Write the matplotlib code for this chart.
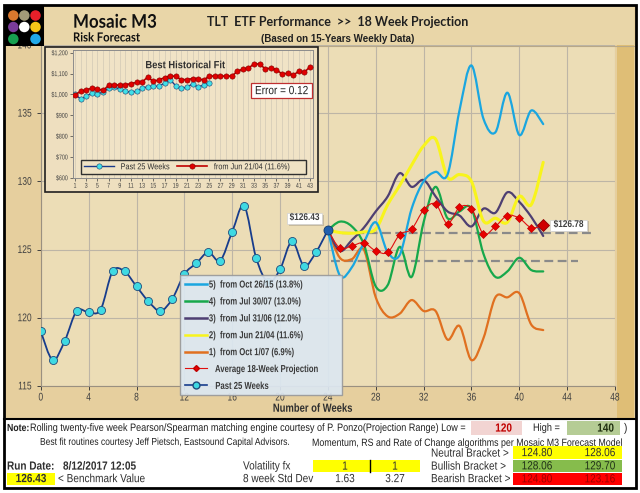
import numpy as np
import matplotlib
matplotlib.use('Agg')
import matplotlib.pyplot as plt
from matplotlib.patches import Rectangle, Ellipse, PathPatch
from matplotlib.path import Path
from matplotlib.lines import Line2D
from matplotlib.transforms import Affine2D
from matplotlib.patheffects import AbstractPathEffect

# ---- data ----
past_weeks = list(range(0, 25))
past_25 = [119.0, 116.9, 118.3, 120.5, 120.4, 120.6, 123.4, 123.4, 122.3, 121.2,
           120.5, 121.4, 123.2, 124.0, 124.8, 124.2, 126.3, 128.2, 124.4, 122.6,
           123.55, 125.6, 123.8, 124.8, 126.43]

proj_weeks = list(range(24, 43))
proj_5 = [126.43, 123.1, 123.7, 125.5, 127.0, 124.8, 124.6, 128.0, 130.0, 130.7,
          130.5, 135.2, 138.5, 134.6, 133.6, 136.5, 133.4, 135.2, 134.2]
proj_4 = [126.43, 127.05, 126.7, 125.4, 122.3, 122.4, 125.2, 123.0, 127.0, 129.6,
          127.3, 127.8, 128.0, 124.7, 123.0, 123.4, 124.4, 123.5, 123.4]
proj_3 = [126.43, 124.9, 125.7, 126.6, 127.8, 128.9, 130.6, 129.6, 130.1, 128.9,
          127.8, 127.5, 126.7, 128.0, 127.7, 129.2, 128.5, 127.4, 126.0]
proj_2 = [126.43, 126.25, 126.2, 126.3, 126.5, 128.3, 129.7, 131.2, 132.6, 133.1,
          130.3, 130.5, 130.0, 127.1, 127.3, 127.0, 128.9, 128.3, 131.4]
proj_1 = [126.43, 124.4, 124.3, 125.0, 121.5, 120.1, 120.3, 121.3, 120.5, 120.5,
          118.4, 119.4, 116.9, 118.5, 121.5, 121.5, 121.8, 119.5, 119.1]
proj_avg = [126.43, 125.1, 125.27, 125.5, 124.9, 124.8, 126.1, 126.5, 127.9, 128.35,
            126.9, 128.1, 128.0, 126.15, 126.7, 127.5, 127.3, 126.6, 126.78]

proj_labels = ['5)  from Oct 26/15 (13.8%)', '4)  from Jul 30/07 (13.0%)',
               '3)  from Jul 31/06 (12.0%)', '2)  from Jun 21/04 (11.6%)',
               '1)  from Oct 1/07 (6.9%)']
proj_colors = ['#1AA6E0', '#17A84B', '#4E3F72', '#F8F41C', '#E07020']

band_levels = [126.24, 124.14]
band_start = [25.2, 24.3]
band_end = [46.0, 44.9]

fit_weeks = list(range(1, 44))
fit_match = [998.6, 1014, 1021, 1030, 1026, 1019, 1043, 1045, 1045, 1046, 1052, 1057,
             1060, 1083, 1062, 1070, 1080, 1090, 1086, 1071, 1071, 1076, 1075, 1069,
             1088, 1088, 1088, 1088, 1088, 1110, 1122, 1126, 1146, 1146, 1122, 1126,
             1119, 1097, 1102, 1092, 1111, 1107, 1132]
fit_past = [1000, 978, 990, 1007, 1003, 1010, 1030, 1033, 1026, 1014, 1011, 1014,
            1030, 1037, 1038, 1040, 1054, 1071, 1041, 1029, 1035, 1050, 1035, 1045, 1056]

W, H = 640, 493
def fx(px): return px / W
def fy(py): return 1 - py / H

plt.rcParams['font.family'] = ['Liberation Sans', 'DejaVu Sans']
HEAD = ['Lato', 'DejaVu Sans']


class Squeeze(AbstractPathEffect):
    # rescale glyphs about the text anchor: the source chart was squashed sideways
    def __init__(self, sx, sy, ha='left', va='center'):
        super().__init__()
        self.sx, self.sy, self.ha, self.va = sx, sy, ha, va

    def draw_path(self, renderer, gc, tpath, affine, rgbFace=None):
        e = tpath.get_extents()
        px = {'center': (e.x0 + e.x1) / 2, 'right': e.x1}.get(self.ha, 0.0)
        py = {'top': e.y1, 'bottom': e.y0, 'baseline': 0.0}.get(self.va, (e.y0 + e.y1) / 2)
        t = Affine2D().translate(-px, -py).scale(self.sx, self.sy).translate(px, py) + affine
        renderer.draw_path(gc, tpath, t, rgbFace)


def narrow(t, sx):
    # smaller font, stretched back up: same look as a squeezed font, true width
    t.set_fontsize(t.get_fontsize() * sx)
    t.set_path_effects([Squeeze(1, 1 / sx, t.get_ha(), t.get_va())])


def smooth(x, y):
    # excel style smoothed line: bezier through every point
    p = np.column_stack([x, y]).astype(float)
    e = np.vstack([p[0], p, p[-1]])
    verts, codes = [p[0]], [Path.MOVETO]
    for i in range(len(p) - 1):
        c1 = e[i + 1] + (e[i + 2] - e[i]) / 6
        c2 = e[i + 2] - (e[i + 3] - e[i + 1]) / 6
        verts += [c1, c2, e[i + 2]]
        codes += [Path.CURVE4] * 3
    return Path(verts, codes)


fig = plt.figure(figsize=(W / 100, H / 100), dpi=100)
fig.patch.set_facecolor('white')

def box(px0, py0, px1, py1, **kw):
    r = Rectangle((fx(px0), fy(py1)), (px1 - px0) / W, (py1 - py0) / H,
                  transform=fig.transFigure, **kw)
    fig.add_artist(r)
    return r

def ftxt(px, py, s, sx=0.85, **kw):
    kw.setdefault('va', 'center')
    t = fig.text(fx(px), fy(py), s, **kw)
    if sx < 1:
        narrow(t, sx)
    return t

# backgrounds
box(4, 5, 636, 419, fc='#E6CF9E', ec='none', zorder=-10)
box(617, 45, 634, 419, fc='#DFBE76', ec='none', zorder=-9)
box(45, 5, 634, 45, fc='#E9D6A8', ec='none', zorder=1)
fig.add_artist(Line2D([fx(45), fx(634)], [fy(45.5)] * 2, transform=fig.transFigure,
                      color='#B8A888', lw=0.8, zorder=1))

# ---- main chart ----
TSX = 0.76
ax = fig.add_axes([fx(40.8), fy(386), (615 - 40.8) / W, (386 - 45) / H])
ax.set_facecolor('#ECDDB6')
ax.set_xlim(0, 48)
ax.set_ylim(115, 140)
ax.set_xticks(range(0, 49, 4))
ax.set_yticks(range(115, 141, 5))
ax.grid(True, color='#BDB5A6', lw=0.8)
ax.set_axisbelow(True)
for s in ['top', 'right']:
    ax.spines[s].set_visible(False)
for s in ['left', 'bottom']:
    ax.spines[s].set_color('#9A9080')
    ax.spines[s].set_linewidth(0.8)
ax.tick_params(labelsize=8 * TSX, colors='#404040', length=3, width=0.7)
ax.tick_params(axis='x', pad=2.5)
xl = ax.set_xlabel('Number of Weeks', fontsize=8.5, fontweight='bold', color='#303030')
ax.xaxis.set_label_coords(0.474, -0.05)
narrow(xl, 0.8)

for lv, x0, x1 in zip(band_levels, band_start, band_end):
    ax.plot([x0, x1], [lv, lv], ls=(0, (4, 2)), color='#8A8A8A', lw=1.6, zorder=3)

series = [proj_1, proj_4, proj_3, proj_2, proj_5]
cols = [proj_colors[4], proj_colors[1], proj_colors[2], proj_colors[3], proj_colors[0]]
for vals, c in zip(series, cols):
    lw = 2.2 if c == proj_colors[3] else 1.6
    ax.add_patch(PathPatch(smooth(proj_weeks, vals), fill=False, ec=c, lw=lw, zorder=4,
                           capstyle='round'))

ax.add_patch(PathPatch(smooth(proj_weeks, proj_avg), fill=False, ec='#E01010', lw=0.8, zorder=5))
ax.plot(proj_weeks[1:-1], proj_avg[1:-1], ls='none', marker='D', ms=4.2, mfc='#E80000',
        mec='#C00000', mew=0.5, zorder=6)
ax.plot(proj_weeks[-1:], proj_avg[-1:], ls='none', marker='D', ms=6.5, mfc='#D00000',
        mec='#900000', mew=0.6, zorder=6)

ax.add_patch(PathPatch(smooth(past_weeks, past_25), fill=False, ec='#173C8C', lw=1.3, zorder=7))
ax.plot(past_weeks[:-1], past_25[:-1], ls='none', marker='o', ms=5.8, mfc='#3FD9E2',
        mec='#1F4C7C', mew=0.6, zorder=8)
ax.plot(past_weeks[-1:], past_25[-1:], ls='none', marker='o', ms=6.5, mfc='#1F5FAF',
        mec='#123A6A', mew=0.6, zorder=8)

handles = [Line2D([], [], color=c, lw=1.8) for c in proj_colors]
handles += [Line2D([], [], color='#E01010', lw=0.8, marker='D', ms=3, mfc='#E80000', mec='#C00000'),
            Line2D([], [], color='#173C8C', lw=1.2, marker='o', ms=5, mfc='#3FD9E2', mec='#1F4C7C')]
labels = proj_labels + ['   Average 18-Week Projection', '   Past 25 Weeks']
leg = ax.legend(handles, labels, loc='upper left', bbox_to_anchor=(0.2424, 0.2255, 0.2817, 0.1),
                mode='expand', fontsize=7.3, labelspacing=0.68, borderpad=0.45,
                handlelength=2.2, handletextpad=0.2, borderaxespad=0, fancybox=False,
                facecolor='#DCE7F1', edgecolor='#9A9A9A', framealpha=0.93)
leg.set_zorder(10)
for t in leg.get_texts():
    t.set_fontweight('bold')
    t.set_color('#3A3A3A')
    t.set_path_effects([Squeeze(0.76, 1, 'left', 'baseline')])

# value tags
for (x0, y0, x1, y1), v in [((287, 212.5, 322, 223.5), past_25[-1]),
                            ((550, 219.5, 587, 230.5), proj_avg[-1])]:
    box(x0 + 2, y0 + 2, x1 + 2, y1 + 2, fc='#9A9080', ec='none', alpha=0.45, zorder=1)
    box(x0, y0, x1, y1, fc='white', ec='#D0D0D0', lw=0.5, zorder=1)
    ftxt((x0 + x1) / 2, (y0 + y1) / 2, '$%.2f' % v, ha='center', fontsize=7,
         fontweight='bold', color='#404040')

# ---- inset: best historical fit ----
box(45, 47, 318, 192, fc='#EEDFBF', ec='#202020', lw=1.2, zorder=1)
ai = fig.add_axes([fx(72.8), fy(177.7), 240 / W, (177.7 - 50) / H], zorder=2)
ai.set_facecolor('#F0E3C6')
ai.set_xlim(0.6, 43.5)
ai.set_ylim(600, 1213)
ai.set_xticks(range(1, 44, 2))
ai.set_yticks(range(600, 1201, 100))
ai.set_yticklabels(['$%s' % format(v, ',') for v in range(600, 1201, 100)])
ai.set_xticks(range(1, 44), minor=True)
ai.grid(True, which='both', axis='x', color='#C9C1B2', lw=0.4)
ai.set_axisbelow(True)
ai.tick_params(labelsize=5 * TSX, colors='#404040', length=2, width=0.5, pad=1.5)
ai.tick_params(which='minor', length=0)
for s in ai.spines.values():
    s.set_color('#8C8C8C')
    s.set_linewidth(0.7)
ai.plot(fit_weeks, fit_match, color='#C00000', lw=1.2, marker='o', ms=3.8, mfc='#E00000',
        mec='#800000', mew=0.4, label='from Jun 21/04 (11.6%)', zorder=4)
ai.plot(fit_weeks[:len(fit_past)], fit_past, color='#1A3A8A', lw=1.0, marker='o', ms=3.8,
        mfc='#40E0E8', mec='#204070', mew=0.4, label='Past 25 Weeks', zorder=3)
t_fit = ai.text(0.47, 0.88, 'Best Historical Fit', transform=ai.transAxes, ha='center',
                va='center', fontsize=7.5, fontweight='bold', color='#303030')
narrow(t_fit, 0.9)
h, l = ai.get_legend_handles_labels()
lg = ai.legend(h[::-1], l[::-1], loc='lower left', bbox_to_anchor=(0.034, 0.03, 0.938, 0.135),
               mode='expand', ncol=2, fontsize=6.2, fancybox=False, edgecolor='#303030',
               facecolor='#EFE2C4', framealpha=1, borderpad=0.3, handlelength=3.5,
               borderaxespad=0, columnspacing=1)
for t in lg.get_texts():
    t.set_color('#303030')
    t.set_path_effects([Squeeze(0.85, 1, 'left', 'baseline')])
box(251, 83, 312, 98, fc='white', ec='#C03030', lw=0.9, zorder=4)
ftxt(281.5, 90.5, 'Error = 0.12', ha='center', fontsize=8.5, color='#202020', zorder=5)

# ---- header ----
box(4, 5, 44, 46, fc='black', ec='none', zorder=2)
dot_cols = [['#D9782E', '#A39B78', '#E8202A'],
            ['#7A3C9A', '#FFFFFF', '#F5C518'],
            ['#17A050', None, '#20A8E8']]
for r, cy in enumerate([15.5, 27, 39]):
    for c, cx in enumerate([13.3, 24.3, 35.5]):
        if dot_cols[r][c]:
            fig.add_artist(Ellipse((fx(cx), fy(cy)), 10.5 / W, 10.5 / H, transform=fig.transFigure,
                                   fc=dot_cols[r][c], ec='none', zorder=3))
ftxt(73, 22, 'Mosaic M3', sx=0.9, fontsize=13.5, fontweight='bold', family=HEAD, color='#101010')
ftxt(73, 37.5, 'Risk Forecast', sx=0.9, fontsize=9, fontweight='bold', family=HEAD, color='#101010')
ftxt(338, 22.5, 'TLT  ETF Performance  >>  18 Week Projection', sx=1, ha='center', fontsize=9,
     fontweight='bold', family=HEAD, color='#202020')
ftxt(338, 39, '(Based on 15-Years Weekly Data)', sx=1, ha='center', fontsize=7, fontweight='bold',
     color='#202020')

# ---- bottom table ----
box(4, 419, 636, 488, fc='white', ec='none', zorder=-10)
fig.add_artist(Line2D([fx(4), fx(636)], [fy(419)] * 2, transform=fig.transFigure,
                      color='black', lw=1.5, zorder=4))
box(4, 5, 636, 488, fill=False, ec='black', lw=2, zorder=11)

tk = dict(color='#202020')
ftxt(7, 428, 'Note:', fontweight='bold', fontsize=7.4, **tk)
ftxt(30, 428, 'Rolling twenty-five week Pearson/Spearman matching engine courtesy of '
     'P. Ponzo(Projection Range) Low =', fontsize=7.7, **tk)
box(471, 421, 522, 435, fc='#F2D4D2', ec='none', zorder=2)
ftxt(512, 428, '120', ha='right', fontweight='bold', fontsize=8.5, color='#C00000', zorder=3)
ftxt(533, 428, 'High =', fontsize=7.8, **tk)
box(567, 421, 620, 435, fc='#B5CC95', ec='none', zorder=2)
ftxt(614, 428, '140', ha='right', fontweight='bold', fontsize=8.5, color='#203010', zorder=3)
ftxt(624, 428, ')', fontsize=8.5, **tk)
ftxt(40, 443, 'Best fit routines courtesy Jeff Pietsch, Eastsound Capital Advisors.',
     fontsize=7.2, **tk)
ftxt(312, 443, 'Momentum, RS and Rate of Change algorithms per Mosaic M3 Forecast Model',
     fontsize=7.5, **tk)

bk = dict(fontsize=8.5, color='#303030')
ftxt(431, 453, 'Neutral Bracket >', **bk)
ftxt(431, 466, 'Bullish Bracket >', **bk)
ftxt(431, 478.5, 'Bearish Bracket >', **bk)
brackets = [('#FFFF00', '#303030', '124.80', '128.06', 446, 459),
            ('#86BC4C', '#203018', '128.06', '129.70', 459.5, 472),
            ('#FF0000', '#A00000', '124.80', '123.16', 472.5, 485)]
for fc, tc, a, b, y0, y1 in brackets:
    box(513, y0, 622, y1, fc=fc, ec='none', zorder=2)
    ftxt(537, (y0 + y1) / 2, a, ha='center', fontsize=8.5, color=tc, zorder=3)
    ftxt(600, (y0 + y1) / 2, b, ha='center', fontsize=8.5, color=tc, zorder=3)

ftxt(7, 466, 'Run Date:', fontweight='bold', **bk)
ftxt(63, 466, '8/12/2017 12:05', fontweight='bold', **bk)
ftxt(243, 466, 'Volatility fx', **bk)
box(313, 459.5, 420, 472, fc='#FFFF00', ec='none', zorder=2)
fig.add_artist(Line2D([fx(370)] * 2, [fy(459.5), fy(472)], transform=fig.transFigure,
                      color='black', lw=1, zorder=3))
ftxt(345, 466, '1', ha='center', zorder=3, **bk)
ftxt(395, 466, '1', ha='center', zorder=3, **bk)
box(7, 472.5, 55, 485, fc='#FFFF00', ec='none', zorder=2)
ftxt(31, 478.5, '%.2f' % past_25[-1], ha='center', fontweight='bold', zorder=3, **bk)
ftxt(58, 478.5, '< Benchmark Value', **bk)
ftxt(243, 478.5, '8 week Std Dev', **bk)
ftxt(345, 478.5, '1.63', ha='center', **bk)
ftxt(395, 478.5, '3.27', ha='center', **bk)

# tick labels: same narrow look
fig.canvas.draw()
for a in (ax, ai):
    for t in a.get_xticklabels() + a.get_yticklabels():
        t.set_path_effects([Squeeze(1, 1 / TSX, t.get_ha(), t.get_va())])

fig.savefig('out.png', dpi=100)
